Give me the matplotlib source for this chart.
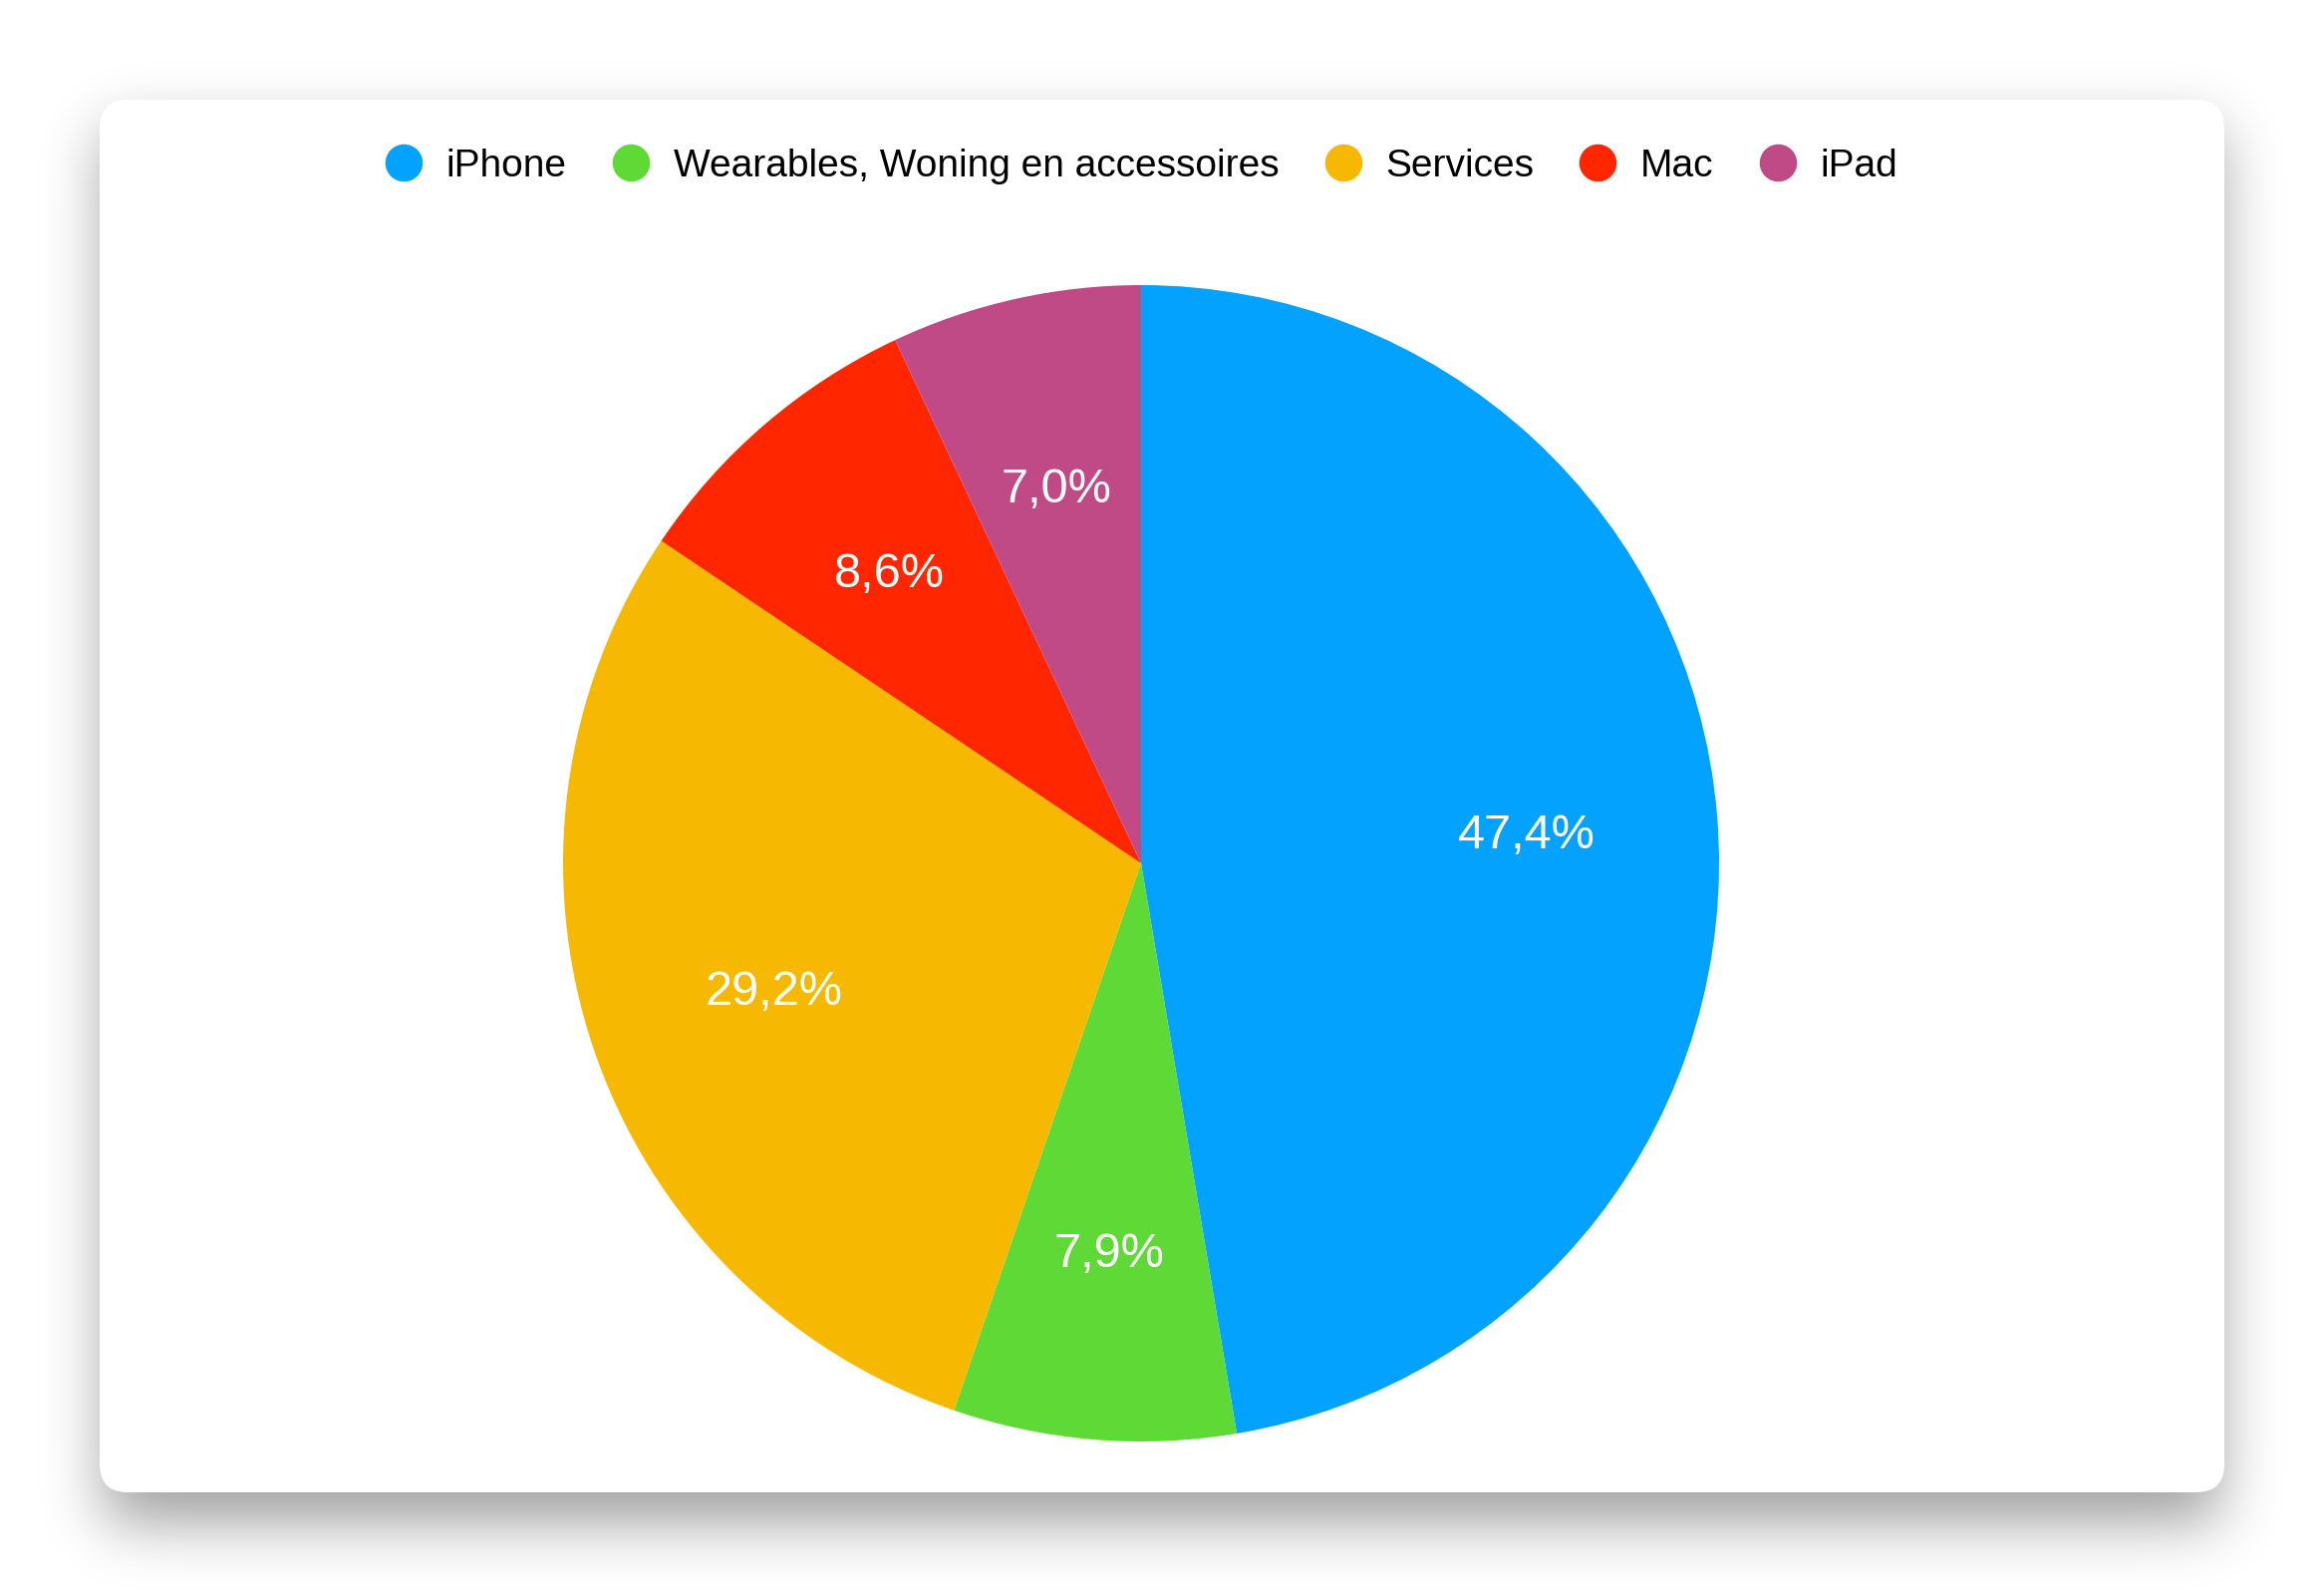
import matplotlib
matplotlib.use("Agg")
import matplotlib.pyplot as plt
import numpy as np
from matplotlib.patches import FancyBboxPatch
from matplotlib.lines import Line2D

# share of revenue per segment (%), clockwise from 12 o'clock
segments = ["iPhone", "Wearables, Woning en accessoires", "Services", "Mac", "iPad"]
shares = [47.4, 7.9, 29.2, 8.6, 7.0]
colors = ["#03A2FF", "#5FD936", "#F6B800", "#FF2600", "#C04A86"]

W, H = 2332, 1598
DPI = 100

plt.rcParams["font.family"] = ["Liberation Sans", "DejaVu Sans"]

fig = plt.figure(figsize=(W / DPI, H / DPI), dpi=DPI, facecolor="white")
ax = fig.add_axes([0, 0, 1, 1])

# card geometry in pixel coords (y up)
card_x0, card_x1 = 100, 2232
card_top, card_bot = 100, 1497
cy0, cy1 = H - card_bot, H - card_top

# soft drop shadow under the card
sigma = 30
off = 30
mask = np.zeros((H, W))
mask[card_top + off:card_bot + off, card_x0 + 5:card_x1 - 5] = 1.0
k = np.arange(-3 * sigma, 3 * sigma + 1)
kern = np.exp(-0.5 * (k / sigma) ** 2)
kern /= kern.sum()
blur = np.apply_along_axis(lambda r: np.convolve(r, kern, mode="same"), 1, mask)
blur = np.apply_along_axis(lambda c: np.convolve(c, kern, mode="same"), 0, blur)
shadow = np.zeros((H, W, 4))
shadow[..., 3] = 0.38 * blur
ax.imshow(shadow, extent=(0, W, 0, H), origin="upper", zorder=0, interpolation="bilinear")

card = FancyBboxPatch((card_x0, cy0), card_x1 - card_x0, cy1 - cy0,
                      boxstyle="round,pad=0,rounding_size=28",
                      fc="white", ec="none", zorder=1)
ax.add_patch(card)

total = sum(shares)
wedges, _, autotexts = ax.pie(
    shares, colors=colors, startangle=90, counterclock=False,
    radius=580, center=(1145, H - 866), frame=True,
    autopct=lambda p: f"{p * total / 100:.1f}%".replace(".", ","),
    pctdistance=0.67,
    wedgeprops=dict(linewidth=0, zorder=2),
    textprops=dict(color="white", fontsize=35),
)
for t in autotexts:
    t.set_zorder(3)
    t.set_verticalalignment("center_baseline")

ax.set_xlim(0, W)
ax.set_ylim(0, H)
ax.axis("off")

handles = [Line2D([0], [0], marker="o", ls="none", markersize=27,
                  markerfacecolor=c, markeredgecolor="none") for c in colors]
fig.legend(handles, segments, loc="center", ncol=len(segments),
           bbox_to_anchor=(1145 / W, 1 - 167 / H), frameon=False,
           fontsize=28, handlelength=1.0, handletextpad=0.6,
           columnspacing=1.15, borderpad=0)

fig.savefig("out.png", dpi=DPI, facecolor="white")
plt.close(fig)
